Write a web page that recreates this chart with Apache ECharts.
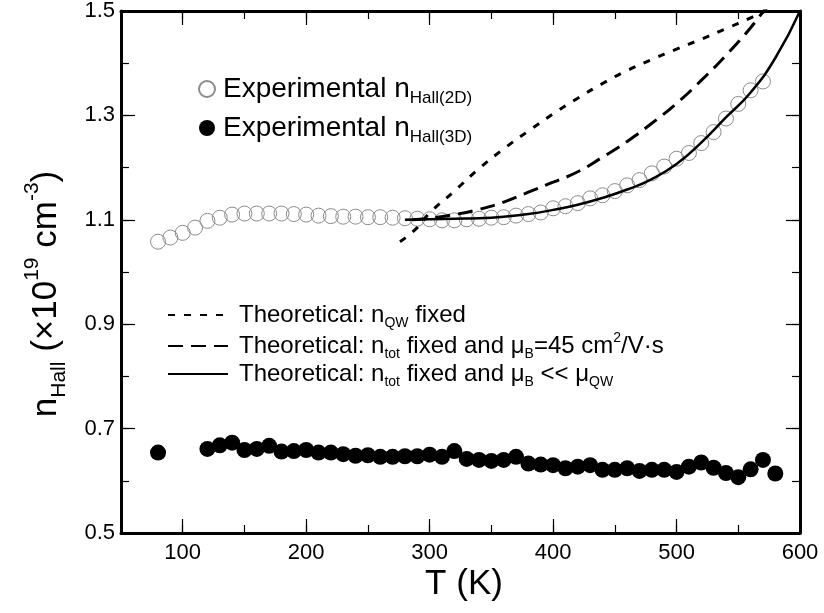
<!DOCTYPE html>
<html>
<head>
<meta charset="utf-8">
<script src="https://cdn.jsdelivr.net/npm/echarts@6/dist/echarts.min.js"></script>
<style>
  html, body { margin: 0; padding: 0; background: #fff; }
  #chart { width: 824px; height: 613px; }
</style>
</head>
<body>
<div id="chart"></div>
<script>
// experimental Hall data, open circles (2D) and filled circles (3D)
var tHall2D = [80, 90, 100, 110, 120, 130, 140, 150, 160, 170, 180, 190, 200, 210, 220, 230, 240, 250, 260, 270,
  280, 290, 300, 310, 320, 330, 340, 350, 360, 370, 380, 390, 400, 410, 420, 430, 440, 450, 460, 470,
  480, 490, 500, 510, 520, 530, 540, 550, 560, 570];
var nHall2D = [1.058, 1.066, 1.075, 1.085, 1.098, 1.104, 1.110, 1.112, 1.112, 1.112, 1.112, 1.111, 1.110, 1.108, 1.107, 1.106, 1.106, 1.105, 1.105, 1.104,
  1.103, 1.102, 1.101, 1.099, 1.099, 1.101, 1.102, 1.104, 1.105, 1.108, 1.111, 1.114, 1.122, 1.126, 1.132, 1.141, 1.147, 1.155, 1.166, 1.176,
  1.189, 1.202, 1.217, 1.228, 1.247, 1.268, 1.294, 1.322, 1.348, 1.365];

var tHall3D = [80, 120, 130, 140, 150, 160, 170, 180, 190, 200, 210, 220, 230, 240, 250, 260, 270, 280, 290, 300,
  310, 320, 330, 340, 350, 360, 370, 380, 390, 400, 410, 420, 430, 440, 450, 460, 470, 480, 490, 500,
  510, 520, 530, 540, 550, 560, 570, 580];
var nHall3D = [0.654, 0.661, 0.668, 0.673, 0.659, 0.661, 0.667, 0.656, 0.657, 0.659, 0.654, 0.654, 0.651, 0.648, 0.649, 0.646, 0.646, 0.647, 0.647, 0.650,
  0.646, 0.657, 0.642, 0.640, 0.638, 0.640, 0.646, 0.633, 0.631, 0.630, 0.624, 0.627, 0.630, 0.621, 0.621, 0.624, 0.619, 0.621, 0.621, 0.617,
  0.627, 0.635, 0.625, 0.615, 0.607, 0.622, 0.640, 0.614];

// theoretical curves
var tQW = [276, 290, 300, 320, 340, 360, 380, 400, 420, 440, 460, 480, 500, 520, 540, 560, 575];
var nQW = [1.058, 1.085, 1.113, 1.155, 1.198, 1.236, 1.270, 1.303, 1.333, 1.361, 1.386, 1.407, 1.427, 1.446, 1.466, 1.487, 1.503];

var tMu45 = [286, 300, 320, 340, 360, 380, 400, 420, 440, 460, 480, 500, 520, 540, 560, 575];
var nMu45 = [1.100, 1.103, 1.110, 1.120, 1.134, 1.153, 1.172, 1.192, 1.220, 1.250, 1.285, 1.323, 1.367, 1.415, 1.468, 1.515];

var tMuLow = [280, 300, 320, 340, 360, 380, 400, 420, 440, 460, 480, 500, 520, 540, 560, 580, 600];
var nMuLow = [1.100, 1.101, 1.102, 1.103, 1.106, 1.111, 1.119, 1.129, 1.142, 1.158, 1.178, 1.207, 1.248, 1.296, 1.344, 1.410, 1.500];

// ticks
var xMajor = [100, 200, 300, 400, 500, 600];
var yMajor = [0.7, 0.9, 1.1, 1.3, 1.5];

var legendText = {
  exp2D: '{g|}{m|Experimental n}{s|Hall(2D)}',
  exp3D: '{g|}{m|Experimental n}{s|Hall(3D)}',
  thQW: '{g|}{m|Theoretical: n}{s|QW}{m| fixed}',
  thMu45: '{g|}{m|Theoretical: n}{s|tot}{m| fixed and μ}{s|B}{m|=45 cm}{p|2}{m|/V·s}',
  thMuLow: '{g|}{m|Theoretical: n}{s|tot}{m| fixed and μ}{s|B}{m| << μ}{s|QW}'
};

var font = '"Liberation Sans", Arial, sans-serif';

function zip(xs, ys) {
  return xs.map(function (x, i) { return [x, ys[i]]; });
}

// frame side: axis line + short ticks every minor step
function frameAxis(pos, min, max, interval) {
  return {
    type: 'value', position: pos, min: min, max: max, interval: interval,
    axisLine: { show: true, onZero: false, lineStyle: { color: '#000', width: 3 } },
    axisTick: { show: true, inside: true, length: 8, lineStyle: { color: '#000', width: 1.2 } },
    axisLabel: { show: false },
    splitLine: { show: false }
  };
}

// longer ticks on the labelled values
function majorAxis(pos, min, max, values) {
  return {
    type: 'value', position: pos, min: min, max: max,
    axisLine: { show: false, onZero: false },
    axisTick: { show: true, inside: true, length: 14, customValues: values, lineStyle: { color: '#000', width: 1.2 } },
    axisLabel: { show: false },
    splitLine: { show: false }
  };
}

var xBottom = frameAxis('bottom', 50, 600, 50);
xBottom.axisLabel = {
  show: true, margin: 9, color: '#000', fontFamily: font, fontSize: 22,
  formatter: function (v) { return v % 100 === 0 ? String(v) : ''; }
};
var yLeft = frameAxis('left', 0.5, 1.5, 0.1);
yLeft.axisLabel = {
  show: true, margin: 6, color: '#000', fontFamily: font, fontSize: 22,
  formatter: function (v) {
    var k = Math.round(v * 10);
    return k % 2 === 1 ? (k / 10).toFixed(1) : '';
  }
};

var chart = echarts.init(document.getElementById('chart'));
chart.setOption({
  animation: false,
  backgroundColor: '#fff',
  grid: { left: 121, right: 24, top: 8, bottom: 80, containLabel: false },
  xAxis: [
    xBottom,
    frameAxis('top', 50, 600, 50),
    majorAxis('bottom', 50, 600, xMajor),
    majorAxis('top', 50, 600, xMajor)
  ],
  yAxis: [
    yLeft,
    frameAxis('right', 0.5, 1.5, 0.1),
    majorAxis('left', 0.5, 1.5, yMajor),
    majorAxis('right', 0.5, 1.5, yMajor)
  ],
  legend: [
    {
      data: ['exp2D', 'exp3D'],
      orient: 'vertical', left: 193, top: 70,
      icon: 'circle', itemWidth: 16, itemHeight: 16, itemGap: 7,
      selectedMode: false,
      formatter: function (n) { return legendText[n]; },
      textStyle: {
        color: '#000', fontFamily: font,
        rich: {
          g: { width: 3 },
          m: { fontSize: 28, lineHeight: 36, fontFamily: font, color: '#000' },
          s: { fontSize: 17, lineHeight: 17, verticalAlign: 'bottom', fontFamily: font, color: '#000' }
        }
      }
    },
    {
      data: ['thQW', 'thMu45', 'thMuLow'],
      orient: 'vertical', left: 162, top: 298,
      itemWidth: 60, itemHeight: 14, itemGap: 1,
      selectedMode: false,
      itemStyle: { opacity: 0 },
      formatter: function (n) { return legendText[n]; },
      textStyle: {
        color: '#000', fontFamily: font,
        rich: {
          g: { width: 6 },
          m: { fontSize: 24, lineHeight: 30, fontFamily: font, color: '#000' },
          s: { fontSize: 14, lineHeight: 14, verticalAlign: 'bottom', fontFamily: font, color: '#000' },
          p: { fontSize: 14, lineHeight: 14, verticalAlign: 'top', fontFamily: font, color: '#000' }
        }
      }
    }
  ],
  graphic: [
    {
      type: 'text', x: 46, y: 294, rotation: Math.PI / 2,
      style: {
        text: '{m|n}{s|Hall}{m| (×10}{p|19}{m| cm}{p|-3}{m|)}',
        align: 'center', verticalAlign: 'middle', fill: '#000',
        rich: {
          m: { fontSize: 35, lineHeight: 48, fontFamily: font, fill: '#000' },
          s: { fontSize: 21, lineHeight: 21, verticalAlign: 'bottom', fontFamily: font, fill: '#000' },
          p: { fontSize: 21, lineHeight: 21, verticalAlign: 'top', fontFamily: font, fill: '#000' }
        }
      }
    },
    {
      type: 'text', x: 464, y: 584,
      style: {
        text: 'T (K)', font: '35px ' + font, fill: '#000',
        align: 'center', verticalAlign: 'middle'
      }
    }
  ],
  series: [
    {
      name: 'exp3D', type: 'scatter', data: zip(tHall3D, nHall3D),
      symbol: 'circle', symbolSize: 16,
      itemStyle: { color: '#000', opacity: 1 }, z: 2
    },
    {
      name: 'exp2D', type: 'scatter', data: zip(tHall2D, nHall2D),
      symbol: 'circle', symbolSize: 15,
      itemStyle: { color: 'rgba(255,255,255,0)', borderColor: '#8c8c8c', borderWidth: 1, opacity: 1 }, z: 3
    },
    {
      name: 'thQW', type: 'line', data: zip(tQW, nQW), smooth: true,
      symbol: 'none', itemStyle: { color: '#000' },
      lineStyle: { color: '#000', width: 3, type: [7, 9] }, z: 4
    },
    {
      name: 'thMu45', type: 'line', data: zip(tMu45, nMu45), smooth: true,
      symbol: 'none', itemStyle: { color: '#000' },
      lineStyle: { color: '#000', width: 3, type: [15, 8] }, z: 4
    },
    {
      name: 'thMuLow', type: 'line', data: zip(tMuLow, nMuLow), smooth: true,
      symbol: 'none', itemStyle: { color: '#000' },
      lineStyle: { color: '#000', width: 2.5 }, z: 5
    }
  ]
});
</script>
</body>
</html>
